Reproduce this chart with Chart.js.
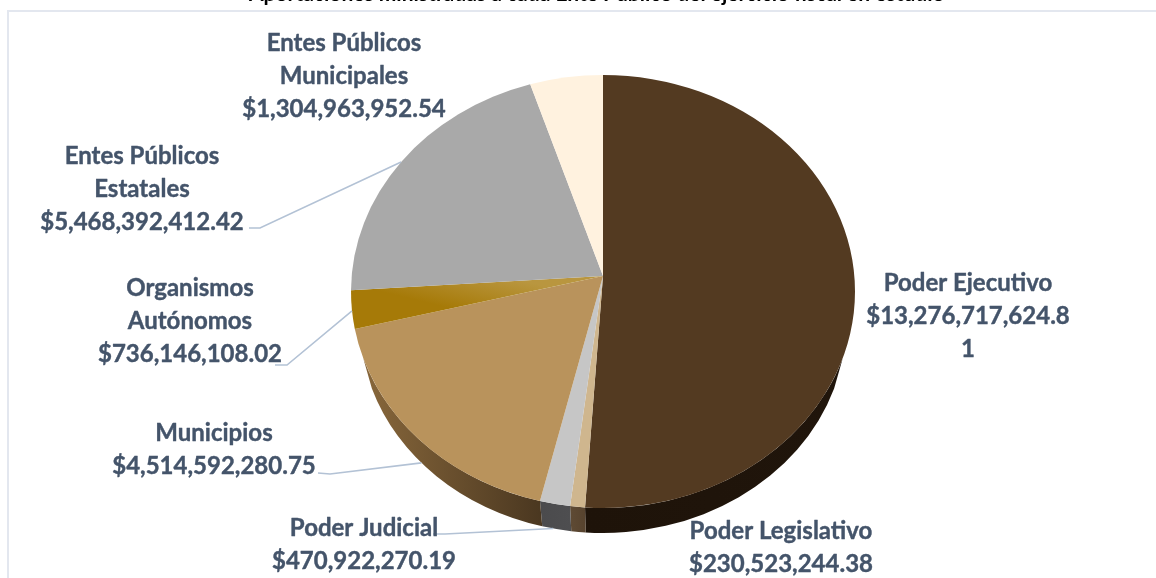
<!DOCTYPE html>
<html lang="es">
<head>
<meta charset="utf-8">
<title>Aportaciones por ente público</title>
<script src="https://cdn.jsdelivr.net/npm/chart.js@4"></script>
<style>
  html, body { margin: 0; padding: 0; background: #fff; }
  #wrap { width: 1156px; height: 578px; position: relative; overflow: hidden; }
</style>
</head>
<body>
<div id="wrap"><canvas id="chart" width="1156" height="578"></canvas></div>
<script>
// Amounts per public entity, clockwise from twelve o'clock
const categories = ['Poder Ejecutivo', 'Poder Legislativo', 'Poder Judicial', 'Municipios',
  'Organismos Autónomos', 'Entes Públicos Estatales', 'Entes Públicos Municipales'];
const amounts = [13276717624.81, 230523244.38, 470922270.19, 4514592280.75,
  736146108.02, 5468392412.42, 1304963952.54];
const amountLabels = ['$13,276,717,624.81', '$230,523,244.38', '$470,922,270.19', '$4,514,592,280.75',
  '$736,146,108.02', '$5,468,392,412.42', '$1,304,963,952.54'];
const chartTitle = 'Aportaciones ministradas a cada Ente Público del ejercicio fiscal en estudio';

const faceColors = ['#533a21', '#cfb68e', '#c6c6c6', '#b9935c', '#ab8114', '#a9a9a9', '#fff2df'];
const wallColors = [['#1e1309', '#20150b'], ['#5e4a34', '#57432e'], ['#4b4b4d', '#4e4e50'],
  ['#85653a', '#4a3720'], ['#6e5310', '#6e5310'], ['#6c6c6c', '#6c6c6c'], ['#a39a8c', '#a39a8c']];

// Label text, wrapped the way it is set on the page
const labelLines = [
  ['Poder Ejecutivo', '$13,276,717,624.8', '1'],
  ['Poder Legislativo', amountLabels[1]],
  ['Poder Judicial', amountLabels[2]],
  ['Municipios', amountLabels[3]],
  ['Organismos', 'Autónomos', amountLabels[4]],
  ['Entes Públicos', 'Estatales', amountLabels[5]],
  ['Entes Públicos', 'Municipales', amountLabels[6]]
];
// Label placement: centre x and middle of the first line
const labelPlacement = [
  { x: 968, y: 283 }, { x: 781, y: 531 }, { x: 364, y: 528 }, { x: 214, y: 433 },
  { x: 190, y: 288 }, { x: 142, y: 156 }, { x: 344, y: 43 }
];
// Leader lines: elbow points, then the share of the slice's arc they end on
const leaders = [
  null, null,
  { from: [433, 534], elbow: [445, 534], along: 0.62 },
  { from: [318, 473], elbow: [330, 474], along: 0.517 },
  { from: [275, 365], elbow: [287, 365], along: 0.47, onFace: true },
  { from: [249, 228], elbow: [260, 228], along: 0.5, onFace: true },
  null
];

// Perspective of the tilted disc, as shares of the chart's pie radius
const PERSPECTIVE = 0.0716;  // how much nearer the front edge is
const SPREAD_X = 0.9948;     // horizontal projection scale
const SPREAD_Y = 0.8548;     // vertical projection scale
const RIM_SQUASH = 0.859;    // semi-height of the projected rim
const APEX_RISE = 0.0615;    // the projected centre sits above the rim's centre
const WALL_SCALE = 0.964;    // lower rim is slightly narrower
const WALL_DROP = 0.13;      // lower rim centre offset
const WALL_START = 0.313;    // angle where the wall emerges from behind the face
const LABEL_FONT = 'bold 24px Lato, "Open Sans", sans-serif';
const LINE_STEP = 33.3;

// Projects a pie angle to its angle on the foreshortened rim ellipse
function rimAngle(alpha, r) {
  const X = Math.cos(alpha), Y = Math.sin(alpha);
  const den = 1 - PERSPECTIVE * Y;
  const px = SPREAD_X * r * X / den;
  const py = SPREAD_Y * r * Y / den + APEX_RISE * -r;
  return Math.atan2(py / (RIM_SQUASH * r), px / r);
}
// Keeps successive rim angles increasing so an arc never runs backwards
function rimRange(arc) {
  const r = arc.outerRadius;
  const a = rimAngle(arc.startAngle, r);
  let b = rimAngle(arc.endAngle, r);
  let from = a;
  if (from < -Math.PI / 2 - 1e-6) from += Math.PI * 2;
  while (b <= from) b += Math.PI * 2;
  return [from, b];
}

// Side wall of the disc, drawn from the arc elements' own angles
function drawWalls(chart) {
  const { ctx } = chart;
  chart.getDatasetMeta(0).data.forEach((arc, i) => {
    const cx = arc.x, cy = arc.y, r = arc.outerRadius;
    const [from, to] = rimRange(arc);
    const a = Math.max(from, WALL_START);
    const b = Math.min(to, Math.PI - WALL_START);
    if (b <= a) return;
    const rx2 = r * WALL_SCALE, ry2 = rx2 * RIM_SQUASH, cy2 = cy + r * WALL_DROP;
    const grad = ctx.createLinearGradient(cx + rx2 * Math.cos(b), 0, cx + rx2 * Math.cos(a), 0);
    grad.addColorStop(0, wallColors[i][0]);
    grad.addColorStop(1, wallColors[i][1]);
    ctx.beginPath();
    ctx.ellipse(cx, cy, r, r * RIM_SQUASH, 0, a, b);
    ctx.ellipse(cx, cy2, rx2, ry2, 0, b, a, true);
    ctx.closePath();
    ctx.fillStyle = grad;
    ctx.fill();
  });
}

// Replaces the flat circle with the projected disc, keeping each arc's angles and colour
const tiltPlugin = {
  id: 'tilt',
  beforeDatasetDraw(chart) {
    const { ctx } = chart;
    drawWalls(chart);
    chart.getDatasetMeta(0).data.forEach(arc => {
      const r = arc.outerRadius;
      const [from, to] = rimRange(arc);
      ctx.beginPath();
      ctx.moveTo(arc.x, arc.y - APEX_RISE * r);
      ctx.ellipse(arc.x, arc.y, r, r * RIM_SQUASH, 0, from, to);
      ctx.closePath();
      ctx.fillStyle = arc.options.backgroundColor;
      ctx.fill();
    });
    return false;
  }
};

const annotationPlugin = {
  id: 'annotations',
  afterDraw(chart) {
    const { ctx } = chart;
    const arcs = chart.getDatasetMeta(0).data;
    ctx.save();

    // Plot frame, open on the right and at the bottom
    ctx.strokeStyle = '#e3e7ef';
    ctx.lineWidth = 2;
    ctx.beginPath();
    ctx.moveTo(8, 578);
    ctx.lineTo(8, 11);
    ctx.lineTo(1156, 11);
    ctx.stroke();

    // Title, cut off by the top edge of the page
    ctx.fillStyle = '#000';
    ctx.font = 'bold 21px Lato, sans-serif';
    ctx.textAlign = 'left';
    ctx.textBaseline = 'alphabetic';
    ctx.fillText(chartTitle, 249, 0.5);

    // Leader lines, ending on the face rim or on the wall's lower edge
    ctx.strokeStyle = '#b3c2d5';
    ctx.lineWidth = 1.6;
    leaders.forEach((l, i) => {
      if (!l) return;
      const arc = arcs[i];
      const r = arc.outerRadius;
      const [from, to] = rimRange(arc);
      const t = from + (to - from) * l.along;
      let ex = arc.x + r * Math.cos(t), ey = arc.y + r * RIM_SQUASH * Math.sin(t);
      if (!l.onFace) {
        const rx2 = r * WALL_SCALE;
        ex = arc.x + rx2 * Math.cos(t);
        ey = arc.y + r * WALL_DROP + rx2 * RIM_SQUASH * Math.sin(t);
      }
      ctx.beginPath();
      ctx.moveTo(l.from[0], l.from[1]);
      ctx.lineTo(l.elbow[0], l.elbow[1]);
      ctx.lineTo(ex, ey);
      ctx.stroke();
    });

    // Data labels, with a hairline outline for the heavier weight
    ctx.fillStyle = '#44546a';
    ctx.strokeStyle = '#44546a';
    ctx.lineWidth = 0.4;
    ctx.lineJoin = 'round';
    ctx.font = LABEL_FONT;
    ctx.textAlign = 'center';
    ctx.textBaseline = 'middle';
    labelLines.forEach((lines, i) => {
      lines.forEach((line, k) => {
        const y = labelPlacement[i].y + k * LINE_STEP;
        ctx.fillText(line, labelPlacement[i].x, y);
        ctx.strokeText(line, labelPlacement[i].x, y);
      });
    });
    ctx.restore();
  }
};

function faceFill(context) {
  const i = context.dataIndex;
  // The autonomous-bodies slice has a visible sheen; the others read as flat
  if (i === 4 && context.chart.chartArea) {
    const area = context.chart.chartArea;
    const midY = (area.top + area.bottom) / 2;
    const midX = (area.left + area.right) / 2;
    const g = context.chart.ctx.createLinearGradient(midX - 120, midY - 20, midX - 130, midY + 22);
    g.addColorStop(0, '#b9963f');
    g.addColorStop(1, '#a67a08');
    return g;
  }
  return faceColors[i];
}

new Chart(document.getElementById('chart'), {
  type: 'pie',
  data: {
    labels: categories,
    datasets: [{
      data: amounts,
      backgroundColor: faceFill,
      borderWidth: 0,
      hoverOffset: 0
    }]
  },
  options: {
    responsive: false,
    animation: false,
    layout: { padding: { left: 351, right: 301, top: 39.5, bottom: 34.5 } },
    plugins: { legend: { display: false }, tooltip: { enabled: false }, title: { display: false } }
  },
  plugins: [tiltPlugin, annotationPlugin]
});
</script>
</body>
</html>
